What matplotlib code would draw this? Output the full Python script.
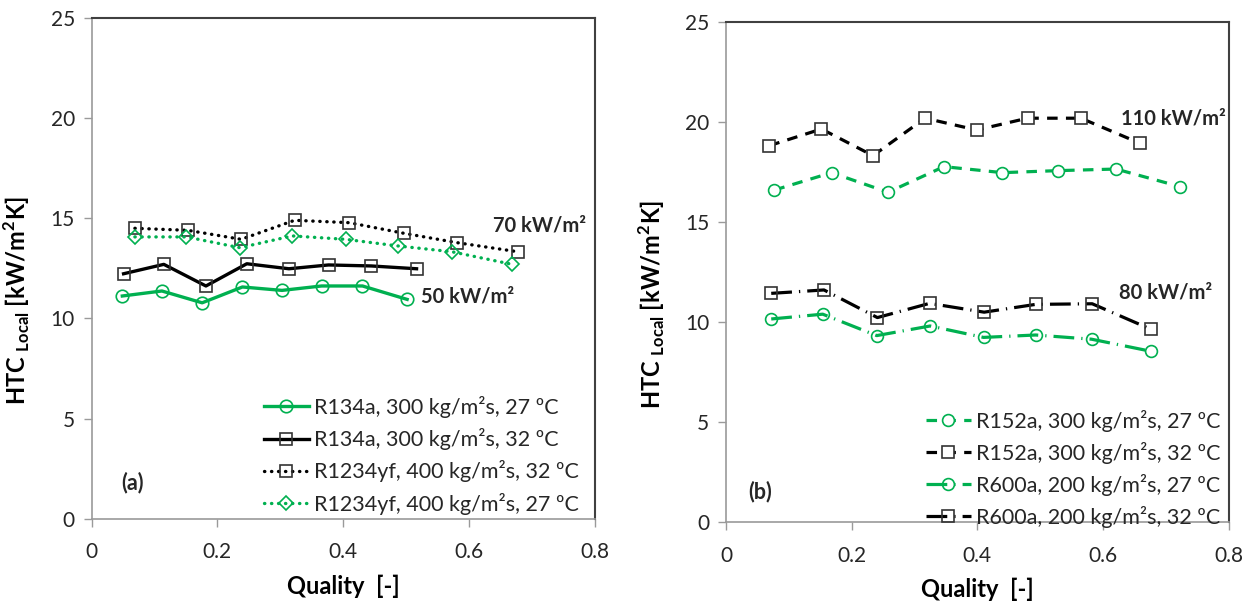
import matplotlib
matplotlib.use("Agg")
import matplotlib.pyplot as plt

plt.rcParams['font.family'] = ['Lato', 'DejaVu Sans']
plt.rcParams['mathtext.fontset'] = 'custom'
plt.rcParams['mathtext.rm'] = 'Lato'
plt.rcParams['mathtext.bf'] = 'Lato:bold'

GREEN = '#00B050'
TXT = '#262626'

# ---- panel (a) data ----
q_r134a_27 = [0.049, 0.112, 0.176, 0.240, 0.303, 0.366, 0.431, 0.502]
h_r134a_27 = [11.12, 11.37, 10.78, 11.57, 11.40, 11.62, 11.62, 10.95]
q_r134a_32 = [0.051, 0.115, 0.182, 0.247, 0.314, 0.377, 0.445, 0.517]
h_r134a_32 = [12.23, 12.70, 11.62, 12.73, 12.48, 12.67, 12.62, 12.48]
q_r1234yf_32 = [0.069, 0.153, 0.238, 0.323, 0.410, 0.497, 0.582, 0.678]
h_r1234yf_32 = [14.50, 14.40, 13.95, 14.90, 14.78, 14.25, 13.78, 13.33]
q_r1234yf_27 = [0.069, 0.151, 0.236, 0.319, 0.404, 0.487, 0.573, 0.669]
h_r1234yf_27 = [14.07, 14.07, 13.53, 14.12, 13.95, 13.62, 13.33, 12.70]

# ---- panel (b) data ----
q_r152a_27 = [0.077, 0.168, 0.258, 0.347, 0.440, 0.528, 0.621, 0.723]
h_r152a_27 = [16.58, 17.45, 16.47, 17.75, 17.45, 17.55, 17.63, 16.75]
q_r152a_32 = [0.069, 0.152, 0.234, 0.317, 0.399, 0.480, 0.565, 0.659]
h_r152a_32 = [18.80, 19.63, 18.30, 20.17, 19.58, 20.17, 20.17, 18.92]
q_r600a_27 = [0.072, 0.154, 0.240, 0.325, 0.410, 0.493, 0.582, 0.676]
h_r600a_27 = [10.14, 10.38, 9.31, 9.79, 9.22, 9.34, 9.13, 8.53]
q_r600a_32 = [0.072, 0.156, 0.241, 0.324, 0.411, 0.493, 0.583, 0.677]
h_r600a_32 = [11.42, 11.59, 10.21, 10.92, 10.48, 10.87, 10.90, 9.62]

x_ticks = [0, 0.2, 0.4, 0.6, 0.8]
x_ticklabels = ['0', '0.2', '0.4', '0.6', '0.8']
y_ticks = [0, 5, 10, 15, 20, 25]

fig = plt.figure(figsize=(12.5, 6.04), dpi=100)
axA = fig.add_axes([0.0732, 0.1412, 0.4024, 0.829])
axB = fig.add_axes([0.5808, 0.1358, 0.4020, 0.8286])

def style(ax):
    ax.set_xlim(0, 0.8)
    ax.set_ylim(0, 25)
    ax.set_xticks(x_ticks)
    ax.set_xticklabels(x_ticklabels)
    ax.set_yticks(y_ticks)
    ax.tick_params(axis='both', direction='out', length=6, width=1, color='#9a9a9a',
                   labelsize=15, labelcolor=TXT, pad=6)
    ax.tick_params(axis='x', pad=11)
    for s in ['left', 'bottom']:
        ax.spines[s].set_color('#9a9a9a')
        ax.spines[s].set_linewidth(1.2)
    for s in ['top', 'right']:
        ax.spines[s].set_color('#404040')
        ax.spines[s].set_linewidth(1.5)
    ax.set_xlabel('Quality  [-]', fontsize=17, fontweight='bold', color='black', labelpad=9)
    ax.set_ylabel(r'HTC $_{\mathbf{Local}}$ [kW/m$^{\mathbf{2}}$K]', fontsize=17,
                  fontweight='bold', color='black')
    ax.yaxis.set_label_coords(-0.118, 0.435)

style(axA)
style(axB)

dot = (0, (0.1, 2.0))
axA.plot(q_r134a_27, h_r134a_27, color=GREEN, lw=2.4, marker='o', ms=9,
         mfc='none', mec=GREEN, mew=1.2, label='R134a, 300 kg/m²s, 27 ºC')
axA.plot(q_r134a_32, h_r134a_32, color='black', lw=2.4, marker='s', ms=9,
         mfc='none', mec='#333333', mew=1.2, label='R134a, 300 kg/m²s, 32 ºC')
axA.plot(q_r1234yf_32, h_r1234yf_32, color='black', lw=2.4, ls=dot, dash_capstyle='round',
         marker='s', ms=9, mfc='none', mec='#333333', mew=1.2,
         label='R1234yf, 400 kg/m²s, 32 ºC')
axA.plot(q_r1234yf_27, h_r1234yf_27, color=GREEN, lw=2.4, ls=dot, dash_capstyle='round',
         marker='D', ms=7.5, mfc='none', mec=GREEN, mew=1.2,
         label='R1234yf, 400 kg/m²s, 27 ºC')

dash = (0, (3.3, 2.6))
dashdot = (0, (6.5, 2.2, 0.4, 2.2))
axB.plot(q_r152a_27, h_r152a_27, color=GREEN, lw=2.3, ls=dash, marker='o', ms=8.5,
         mfc='white', mec=GREEN, mew=1.2, label='R152a, 300 kg/m²s, 27 ºC')
axB.plot(q_r152a_32, h_r152a_32, color='black', lw=2.3, ls=dash, marker='s', ms=8.5,
         mfc='white', mec='#333333', mew=1.2, label='R152a, 300 kg/m²s, 32 ºC')
axB.plot(q_r600a_27, h_r600a_27, color=GREEN, lw=2.3, ls=dashdot, marker='o', ms=8.5,
         mfc='none', mec=GREEN, mew=1.2, label='R600a, 200 kg/m²s, 27 ºC')
axB.plot(q_r600a_32, h_r600a_32, color='black', lw=2.3, ls=dashdot, marker='s', ms=8.5,
         mfc='none', mec='#333333', mew=1.2, label='R600a, 200 kg/m²s, 32 ºC')

legA = axA.legend(loc='lower right', bbox_to_anchor=(0.995, -0.018), frameon=False,
                  fontsize=15.5, handlelength=2.1, handletextpad=0.25, labelspacing=0.48,
                  borderaxespad=0.2)
legB = axB.legend(loc='lower right', bbox_to_anchor=(1.01, -0.037), frameon=False,
                  fontsize=15.5, handlelength=2.1, handletextpad=0.25, labelspacing=0.46,
                  borderaxespad=0.2)
for leg in (legA, legB):
    for t in leg.get_texts():
        t.set_color(TXT)

axA.text(0.713, 14.62, '70 kW/m²', fontsize=14.5, fontweight='bold', ha='center',
         va='center', color=TXT)
axA.text(0.598, 11.1, '50 kW/m²', fontsize=14.5, fontweight='bold', ha='center',
         va='center', color=TXT)
axB.text(0.712, 20.13, '110 kW/m²', fontsize=14.5, fontweight='bold', ha='center',
         va='center', color=TXT)
axB.text(0.700, 11.47, '80 kW/m²', fontsize=14.5, fontweight='bold', ha='center',
         va='center', color=TXT)

axA.text(0.066, 1.8, '(a)', fontsize=15.5, fontweight='bold', ha='center', va='center',
         color=TXT)
axB.text(0.054, 1.5, '(b)', fontsize=15.5, fontweight='bold', ha='center', va='center',
         color=TXT)

fig.savefig('out.png', dpi=100)
